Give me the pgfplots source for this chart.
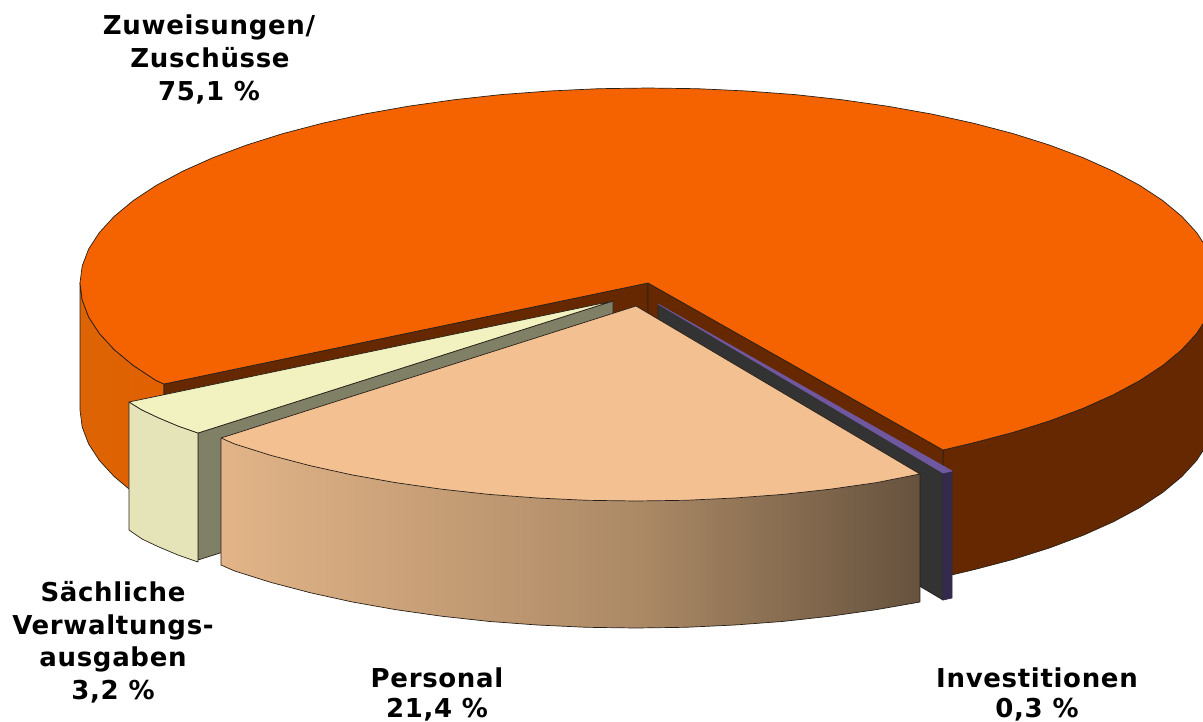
\documentclass[border=0pt]{standalone}
\usepackage{pgfplots}
\usepackage{fontspec}
\setmainfont[LetterSpace=2.6]{DejaVu Sans}
\pgfplotsset{compat=1.18}
\definecolor{oTop}{RGB}{245,98,0}
\definecolor{oSide}{RGB}{226,96,0}
\definecolor{oSideL}{RGB}{220,100,4}
\definecolor{wall}{RGB}{102,40,0}
\definecolor{pTop}{RGB}{243,192,146}
\definecolor{pA}{RGB}{226,180,136}
\definecolor{pB}{RGB}{172,138,102}
\definecolor{pC}{RGB}{102,82,62}
\definecolor{sTop}{RGB}{242,242,192}
\definecolor{sFront}{RGB}{229,228,184}
\definecolor{sWall}{RGB}{128,128,102}
\definecolor{iWall}{RGB}{51,51,51}
\definecolor{iTop}{RGB}{112,88,160}
\definecolor{iFront}{RGB}{52,42,76}
\definecolor{edge}{RGB}{40,32,24}
\tikzset{lab/.style={anchor=base, inner sep=0pt, text=black, font=\fontsize{26}{32}\selectfont\bfseries}}
\begin{document}
\begin{tikzpicture}
\useasboundingbox (0,0) rectangle (1203pt,721pt);
\clip (0,0) rectangle (1203pt,721pt);
\begin{axis}[
  scale only axis, width=1203pt, height=721pt,
  xmin=0, xmax=1203, ymin=0, ymax=721, y dir=reverse,
  hide axis, clip=true, line join=round,
  every axis plot/.append style={line width=0.7pt, draw=edge}]
% outer left side of the large slice
\addplot[left color=oSideL, right color=oSide] coordinates {
(80,283)(82.2,300)(88.6,316.9)(99.4,333.5)(114.3,349.7)(133.2,365.4)(156.1,380.5)(164,384)
(164,511)(156.1,507.5)(133.2,492.4)(114.3,476.7)(99.4,460.5)(88.6,443.9)(82.2,427)(80,410)} -- cycle;
% outer right side of the large slice
\addplot[fill=wall] coordinates {
(943,450)(973.8,442.7)(1013.1,432.4)(1049.6,420.9)(1083.1,408.3)(1113.3,394.8)(1139.9,380.5)(1162.8,365.4)(1181.7,349.7)(1196.6,333.5)(1207.4,316.9)(1213.8,300)(1216,283)
(1216,410)(1213.8,427)(1207.4,443.9)(1196.6,460.5)(1181.7,476.7)(1162.8,492.4)(1139.9,507.5)(1113.3,521.8)(1083.1,535.3)(1049.6,547.9)(1013.1,559.4)(973.8,569.7)(943,577)} -- cycle;
% inner walls
\addplot[fill=wall] coordinates {(164,384)(648,283)(648,410)(164,511)} -- cycle;
\addplot[fill=wall] coordinates {(648,283)(943,450)(943,577)(648,410)} -- cycle;
% top of the large slice
\addplot[fill=oTop] coordinates {
(943,450)(973.8,442.7)(1013.1,432.4)(1049.6,420.9)(1083.1,408.3)(1113.3,394.8)(1139.9,380.5)(1162.8,365.4)(1181.7,349.7)(1196.6,333.5)(1207.4,316.9)(1213.8,300)(1216,283)
(1213.8,266)(1207.4,249.1)(1196.6,232.5)(1181.7,216.3)(1162.8,200.6)(1139.9,185.5)(1113.3,171.2)(1083.1,157.7)(1049.6,145.1)(1013.1,133.6)(973.8,123.3)(932,114.1)(888,106.3)(842.3,99.8)(795,94.6)(746.6,91)(697.5,88.7)(648,88)
(598.5,88.7)(549.4,91)(501,94.6)(453.7,99.8)(408,106.3)(364,114.1)(322.2,123.3)(282.9,133.6)(246.4,145.1)(212.9,157.7)(182.7,171.2)(156.1,185.5)(133.2,200.6)(114.3,216.3)(99.4,232.5)(88.6,249.1)(82.2,266)(80,283)
(82.2,300)(88.6,316.9)(99.4,333.5)(114.3,349.7)(133.2,365.4)(156.1,380.5)(164,384)(648,283)} -- cycle;
% Sachliche Verwaltungsausgaben
\addplot[fill=sWall] coordinates {(198,433)(613,301)(613,428)(198,560)} -- cycle;
\addplot[fill=sFront] coordinates {(129,402)(142,410)(159,418)(178,426)(198,433)(198,562)(178,555)(159,547)(142,539)(129,530)} -- cycle;
\addplot[fill=sTop] coordinates {(129,402)(142,410)(159,418)(178,426)(198,433)(613,301)} -- cycle;
% Investitionen
\addplot[fill=iWall] coordinates {(658,304)(943,473)(943,600)(658,431)} -- cycle;
\addplot[fill=iFront, draw=iFront] coordinates {(943,473)(952,471)(952,598)(943,600)} -- cycle;
\addplot[fill=iTop, draw=iTop] coordinates {(658,304)(952,471)(943,473)} -- cycle;
% Personal
\addplot[left color=pA, right color=pB, draw=none] coordinates {
(636,501)(586.5,500.3)(537.4,498)(489,494.4)(441.7,489.2)(396,482.7)(352,474.9)(310.2,465.7)(270.9,455.4)(234.4,443.9)(221,438)
(221,565)(234.4,570.9)(270.9,582.4)(310.2,592.7)(352,601.9)(396,609.7)(441.7,616.2)(489,621.4)(537.4,625)(586.5,627.3)(636,628)} -- cycle;
\addplot[left color=pB, right color=pC, draw=none] coordinates {
(920,474)(876,482.7)(830.3,489.2)(783,494.4)(734.6,498)(685.5,500.3)(636,501)
(636,628)(685.5,627.3)(734.6,625)(783,621.4)(830.3,616.2)(876,609.7)(920,602)} -- cycle;
\addplot[no markers, fill=none] coordinates {
(920,474)(920,602)(876,609.7)(830.3,616.2)(783,621.4)(734.6,625)(685.5,627.3)(636,628)(586.5,627.3)(537.4,625)(489,621.4)(441.7,616.2)(396,609.7)(352,601.9)(310.2,592.7)(270.9,582.4)(234.4,570.9)(221,565)(221,438)};
\addplot[fill=pTop] coordinates {
(636,306)(920,474)(876,482.7)(830.3,489.2)(783,494.4)(734.6,498)(685.5,500.3)(636,501)(586.5,500.3)(537.4,498)(489,494.4)(441.7,489.2)(396,482.7)(352,474.9)(310.2,465.7)(270.9,455.4)(234.4,443.9)(221,438)} -- cycle;
% labels
\node[lab] at (axis cs:209,34) {Zuweisungen/};
\node[lab] at (axis cs:210,67) {Zuschüsse};
\node[lab] at (axis cs:209,100) {75,1 \%};
\node[lab] at (axis cs:113,601) {Sächliche};
\node[lab] at (axis cs:113,634) {Verwaltungs-};
\node[lab] at (axis cs:113,666) {ausgaben};
\node[lab] at (axis cs:113,699) {3,2 \%};
\node[lab] at (axis cs:437,687) {Personal};
\node[lab] at (axis cs:437,717) {21,4 \%};
\node[lab] at (axis cs:1037,687) {Investitionen};
\node[lab] at (axis cs:1037,717) {0,3 \%};
\end{axis}
\end{tikzpicture}
\end{document}
